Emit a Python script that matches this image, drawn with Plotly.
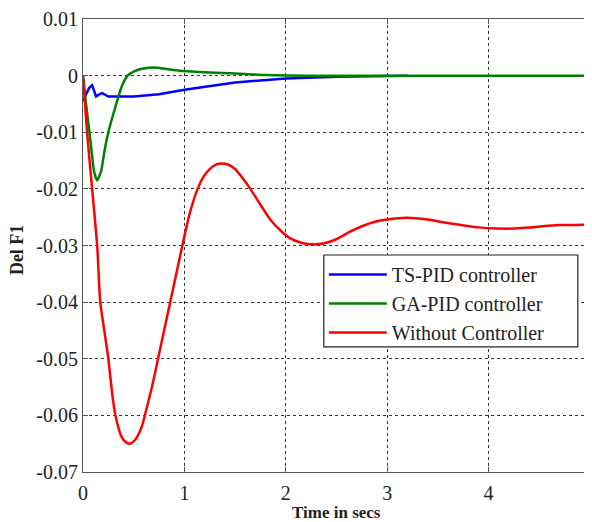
import plotly.graph_objects as go

# Data
t_red = [0, 0.02, 0.04, 0.09, 0.14, 0.17, 0.21, 0.25, 0.29, 0.32, 0.35, 0.38, 0.42, 0.46, 0.50,
         0.54, 0.58, 0.61, 0.68, 0.74, 0.80, 0.86, 0.92, 0.98, 1.05, 1.13, 1.19, 1.25, 1.31,
         1.37, 1.43, 1.5, 1.57, 1.65, 1.75, 1.85, 1.95, 2.04, 2.15, 2.27, 2.38, 2.5, 2.62, 2.75,
         2.88, 3.0, 3.19, 3.4, 3.55, 3.7, 3.9, 4.08, 4.25, 4.4, 4.7, 5.0]
y_red = [0, -0.005, -0.01, -0.02, -0.03, -0.04, -0.045, -0.05, -0.0565, -0.06, -0.0622, -0.0638,
         -0.0647, -0.065, -0.0646, -0.0636, -0.0620, -0.060, -0.055, -0.05, -0.045, -0.04,
         -0.035, -0.03, -0.0245, -0.02, -0.0178, -0.0165, -0.0157, -0.0155, -0.0157, -0.0165,
         -0.0180, -0.02, -0.0228, -0.0255, -0.0274, -0.0287, -0.0295, -0.0298, -0.0296, -0.0289,
         -0.0277, -0.0266, -0.0258, -0.0254, -0.0251, -0.0254, -0.0259, -0.0263, -0.0268,
         -0.0270, -0.0270, -0.0268, -0.0264, -0.0263]

t_green = [0, 0.03, 0.07, 0.11, 0.14, 0.18, 0.21, 0.25, 0.32, 0.38, 0.44, 0.5, 0.58, 0.65, 0.73,
           0.85, 1.0, 1.3, 1.6, 1.8, 2.2, 3.0, 4.0, 5.0]
y_green = [0, -0.005, -0.011, -0.017, -0.0185, -0.0168, -0.0135, -0.010, -0.0055, -0.002, 0,
           0.0007, 0.0012, 0.0014, 0.0014, 0.0011, 0.0008, 0.0005, 0.0003, 0.0001, 0, 0, 0, 0]

t_blue = [0, 0.03, 0.06, 0.09, 0.11, 0.13, 0.16, 0.19, 0.25, 0.5, 0.75, 1.0, 1.5, 2.0, 2.5, 3.2]
y_blue = [-0.0045, -0.0032, -0.0022, -0.0017, -0.0028, -0.0037, -0.0033, -0.0031, -0.0037,
          -0.0037, -0.0033, -0.0025, -0.0012, -0.0005, -0.0002, 0]

x_ticks = [0, 1, 2, 3, 4, 5]
y_ticks = [0.01, 0, -0.01, -0.02, -0.03, -0.04, -0.05, -0.06, -0.07]
y_ticktext = ["0.01", "0", "-0.01", "-0.02", "-0.03", "-0.04", "-0.05", "-0.06", "-0.07"]

font_family = "Times New Roman"

fig = go.Figure()
fig.add_trace(go.Scatter(x=t_blue, y=y_blue, mode="lines", name="TS-PID controller",
                         line=dict(color="#0000ff", width=2.5)))
fig.add_trace(go.Scatter(x=t_green, y=y_green, mode="lines", name="GA-PID controller",
                         line=dict(color="#008000", width=2.5, shape="spline", smoothing=0.5)))
fig.add_trace(go.Scatter(x=t_red, y=y_red, mode="lines", name="Without Controller",
                         line=dict(color="#ff0000", width=2.5, shape="spline", smoothing=0.5)))

axis_common = dict(
    showline=True, linecolor="#555555", linewidth=1.2, mirror="ticks",
    ticks="inside", ticklen=5, tickcolor="#555555",
    showgrid=True, gridcolor="#333333", gridwidth=1, griddash="dot",
    zeroline=False, automargin=False, ticklabeloverflow="allow",
    tickfont=dict(family=font_family, size=20, color="#222222"),
)

# The page body has an 8px margin, so the figure is sized to fit the 592x522 window.
fig.update_layout(
    width=584, height=514,
    margin=dict(l=75, r=2, t=11, b=50),
    paper_bgcolor="white", plot_bgcolor="white",
    font=dict(family=font_family, color="#222222"),
    xaxis=dict(range=[0, 5], tickvals=x_ticks, ticklabelstandoff=3, **axis_common),
    yaxis=dict(range=[-0.07, 0.01], tickvals=y_ticks, ticktext=y_ticktext, **axis_common),
    legend=dict(x=0.475, y=0.479, xanchor="left", yanchor="top",
                bgcolor="rgba(0,0,0,0)", borderwidth=0,
                font=dict(family=font_family, size=20, color="#222222"),
                itemwidth=58, tracegroupgap=0),
    showlegend=True,
    shapes=[dict(type="rect", xref="paper", yref="paper", x0=0.475, x1=0.976,
                 y0=0.276, y1=0.479, fillcolor="white", line=dict(color="#222222", width=1.2),
                 layer="above")],
    annotations=[
        dict(text="<b>Del F1</b>", xref="paper", yref="paper", x=-0.130, y=0.49,
             xanchor="center", yanchor="middle", textangle=-90, showarrow=False,
             font=dict(family=font_family, size=18, color="#222222")),
        dict(text="<b>Time in secs</b>", xref="paper", yref="paper", x=0.5, y=-0.0905,
             xanchor="center", yanchor="middle", showarrow=False,
             font=dict(family=font_family, size=17, color="#222222")),
    ],
)

fig.write_html("out.html")
